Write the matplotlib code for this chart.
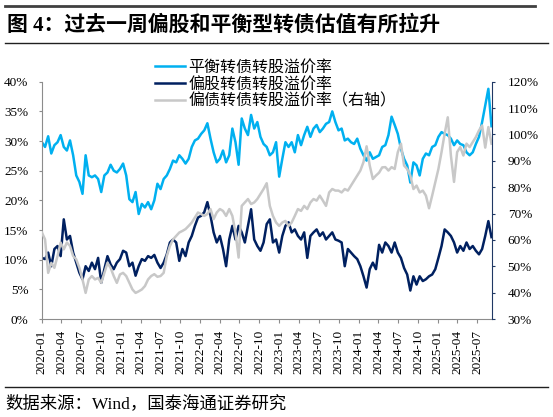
import numpy as np
import pandas as pd
import matplotlib
matplotlib.use("Agg")
import matplotlib.pyplot as plt
import matplotlib.dates as mdates
from matplotlib.lines import Line2D
from matplotlib.ticker import FuncFormatter, MultipleLocator

plt.rcParams['font.family'] = ['Liberation Serif', 'Noto Sans CJK SC']

# 平衡转债转股溢价率 (%), 左轴
balanced = [29.8, 29.0, 30.8, 27.9, 29.3, 29.8, 31.0, 29.0, 28.4, 30.1,
            27.6, 24.2, 23.1, 21.1, 27.6, 24.2, 23.9, 24.2, 23.6, 21.4,
            24.2, 24.7, 26.0, 25.0, 24.7, 25.3, 26.2, 24.2, 20.2, 19.7,
            21.4, 17.7, 19.4, 18.8, 19.7, 18.5, 20.0, 22.8, 21.9, 23.6,
            24.2, 25.3, 26.7, 26.4, 27.6, 27.0, 26.2, 27.0, 29.0, 30.1,
            30.4, 31.2, 31.8, 33.0, 30.4, 28.1, 26.4, 27.0, 28.4, 26.4,
            27.6, 32.1, 29.8, 26.0, 33.8, 32.1, 31.0, 34.4, 32.1, 33.2,
            30.7, 29.5, 29.0, 27.6, 28.1, 29.8, 24.0, 27.0, 29.8, 29.0,
            29.8, 28.1, 31.0, 29.3, 31.0, 32.4, 30.7, 32.1, 32.7, 31.5,
            32.1, 32.9, 33.2, 35.0, 33.2, 31.8, 32.1, 30.1, 30.4, 29.8,
            29.5, 30.4, 28.7, 27.6, 26.7, 28.1, 27.0, 27.3, 27.6, 29.0,
            29.3, 31.0, 34.1, 32.7, 31.2, 28.7, 27.0, 25.9, 23.0, 26.4,
            25.9, 24.2, 27.0, 27.9, 27.6, 29.0, 29.3, 30.7, 31.5, 31.2,
            31.0, 30.4, 29.3, 30.1, 29.5, 29.3, 28.1, 27.6, 28.1, 29.5,
            30.7, 33.2, 36.0, 38.8, 32.5]

# 偏股转债转股溢价率 (%), 左轴
equity = [10.3, 10.1, 11.2, 8.9, 11.8, 12.3, 10.6, 16.8, 13.4, 14.0,
          11.2, 9.5, 7.8, 6.7, 8.9, 8.1, 9.5, 8.4, 10.3, 6.1,
          8.4, 10.6, 9.2, 8.4, 9.5, 10.1, 11.5, 11.2, 8.9, 9.5,
          7.3, 8.9, 10.1, 9.8, 10.6, 10.3, 10.8, 9.5, 8.6, 9.5,
          10.9, 12.9, 13.4, 12.9, 9.8, 11.8, 10.6, 12.9, 14.0, 15.7,
          17.1, 17.4, 18.0, 19.7, 17.4, 14.6, 12.9, 14.0, 11.8, 8.9,
          13.4, 15.7, 13.4, 15.7, 14.6, 12.9, 15.7, 18.5, 13.4, 12.3,
          11.5, 12.9, 16.0, 16.8, 12.9, 13.4, 11.2, 14.0, 15.7, 16.3,
          14.6, 15.1, 14.0, 13.4, 14.6, 10.3, 14.0, 14.6, 15.1, 14.0,
          14.6, 13.4, 14.0, 14.6, 13.4, 13.2, 12.9, 8.9, 11.8, 11.2,
          10.6, 10.1, 8.9, 7.2, 5.3, 8.4, 9.5, 8.4, 12.5, 11.2,
          12.9, 12.3, 11.2, 12.9, 11.2, 10.3, 8.6, 7.5, 4.8, 7.2,
          5.8, 7.2, 6.4, 6.7, 7.2, 7.5, 8.4, 10.3, 12.3, 15.1,
          14.6, 14.0, 12.9, 11.2, 12.3, 11.5, 12.9, 11.8, 12.3, 11.5,
          10.9, 11.8, 14.0, 16.5, 13.8]

# 偏债转债转股溢价率 (%), 右轴
bond = [62.8, 60.2, 47.5, 51.3, 49.4, 53.9, 59.0, 56.4, 59.0, 57.7,
        53.9, 52.6, 49.4, 45.0, 39.9, 45.0, 46.3, 45.0, 45.6, 43.7,
        47.5, 51.3, 49.4, 46.3, 43.7, 46.9, 47.5, 46.3, 43.7, 41.2,
        39.9, 40.5, 41.2, 42.5, 45.0, 46.3, 47.0, 46.0, 46.3, 47.5,
        53.9, 57.7, 60.2, 61.5, 62.8, 63.4, 64.1, 65.3, 66.6, 68.5,
        70.4, 69.8, 69.1, 69.8, 71.7, 67.9, 70.4, 71.7, 71.0, 69.1,
        71.7, 69.1, 62.8, 53.3, 72.9, 74.2, 75.5, 73.6, 74.2, 75.5,
        77.4, 79.3, 81.5, 72.9, 69.1, 66.6, 65.3, 66.6, 67.2, 65.3,
        66.6, 69.1, 71.7, 71.0, 72.9, 71.7, 74.2, 75.5, 74.9, 76.8,
        74.9, 72.9, 78.0, 79.3, 78.7, 78.7, 78.0, 79.3, 78.7, 80.6,
        82.5, 84.4, 86.3, 89.5, 95.5, 88.2, 83.1, 84.4, 85.5, 87.5,
        87.6, 86.3, 87.6, 86.9, 93.3, 96.5, 88.2, 86.9, 84.4, 79.3,
        80.6, 78.0, 78.7, 76.8, 72.0, 76.8, 81.8, 86.9, 93.3, 100.3,
        106.5, 92.0, 82.0, 93.3, 95.2, 92.0, 96.5, 95.2, 97.1, 99.0,
        101.5, 103.4, 95.0, 102.8, 96.5]

labels = ['平衡转债转股溢价率', '偏股转债转股溢价率', '偏债转债转股溢价率（右轴）']
colors = ['#00B0F0', '#002060', '#C8C8C8']


def dates_for(vals):
    return pd.date_range('2020-01-02', '2025-09-05', periods=len(vals))


W, H = 553, 417
fig = plt.figure(figsize=(W / 100, H / 100), dpi=100)
ax = fig.add_axes([41.7 / W, 1 - 319 / H, (491.7 - 41.7) / W, (319 - 81.7) / H])
ax2 = ax.twinx()

l1, = ax.plot(dates_for(balanced), balanced, color=colors[0], lw=1.8)
l2, = ax.plot(dates_for(equity), equity, color=colors[1], lw=1.8)
l3, = ax2.plot(dates_for(bond), bond, color=colors[2], lw=1.8)

ax.set_ylim(0, 40)
ax2.set_ylim(30, 120)
ax.yaxis.set_major_locator(MultipleLocator(5))
ax2.yaxis.set_major_locator(MultipleLocator(10))
pct = FuncFormatter(lambda v, p: '%d%%' % round(v))
ax.yaxis.set_major_formatter(pct)
ax2.yaxis.set_major_formatter(pct)

ax.set_xlim(pd.Timestamp('2020-01-01'), pd.Timestamp('2025-09-06'))
ax.xaxis.set_major_locator(mdates.MonthLocator(bymonth=[1, 4, 7, 10]))
ax.xaxis.set_major_formatter(mdates.DateFormatter('%Y-%m'))

for s in ['top', 'right']:
    ax.spines[s].set_visible(False)
for s in ['top', 'left', 'bottom']:
    ax2.spines[s].set_visible(False)
ax.spines['left'].set_color('#8C8C8C')
ax.spines['bottom'].set_color('#8C8C8C')
ax2.spines['right'].set_color('#203864')

ax.tick_params(axis='y', direction='out', length=2.5, color='#8C8C8C',
               labelsize=9.5, pad=7)
ax.tick_params(axis='x', direction='out', length=3, color='#8C8C8C',
               labelsize=9.5, pad=5, labelrotation=90)
ax2.tick_params(axis='y', direction='out', length=2.5, color='#203864',
                labelsize=9.5, pad=9)

fig.legend([l1, l2, l3], labels, loc='upper left',
           bbox_to_anchor=(155 / W, 1 - 60 / H), frameon=False,
           fontsize=11.5, handlelength=1.9, handletextpad=0.2,
           labelspacing=0.05, borderpad=0, borderaxespad=0)

# 标题和来源
fig.text(7 / W, 1 - 25 / H, '图 4：过去一周偏股和平衡型转债估值有所拉升',
         fontsize=15, fontweight='bold', va='center', ha='left')
fig.text(5 / W, 1 - 404 / H, '数据来源：Wind，国泰海通证券研究',
         fontsize=12.5, va='center', ha='left')

fig.add_artist(Line2D([5 / W, 535 / W], [1 - 5.8 / H] * 2, transform=fig.transFigure,
                      color='#404040', lw=2))
fig.add_artist(Line2D([5 / W, 548 / W], [1 - 42.7 / H] * 2, transform=fig.transFigure,
                      color='#202020', lw=1))
fig.add_artist(Line2D([5 / W, 548 / W], [1 - 387 / H] * 2, transform=fig.transFigure,
                      color='#202020', lw=1))

fig.savefig('out.png', dpi=100)
